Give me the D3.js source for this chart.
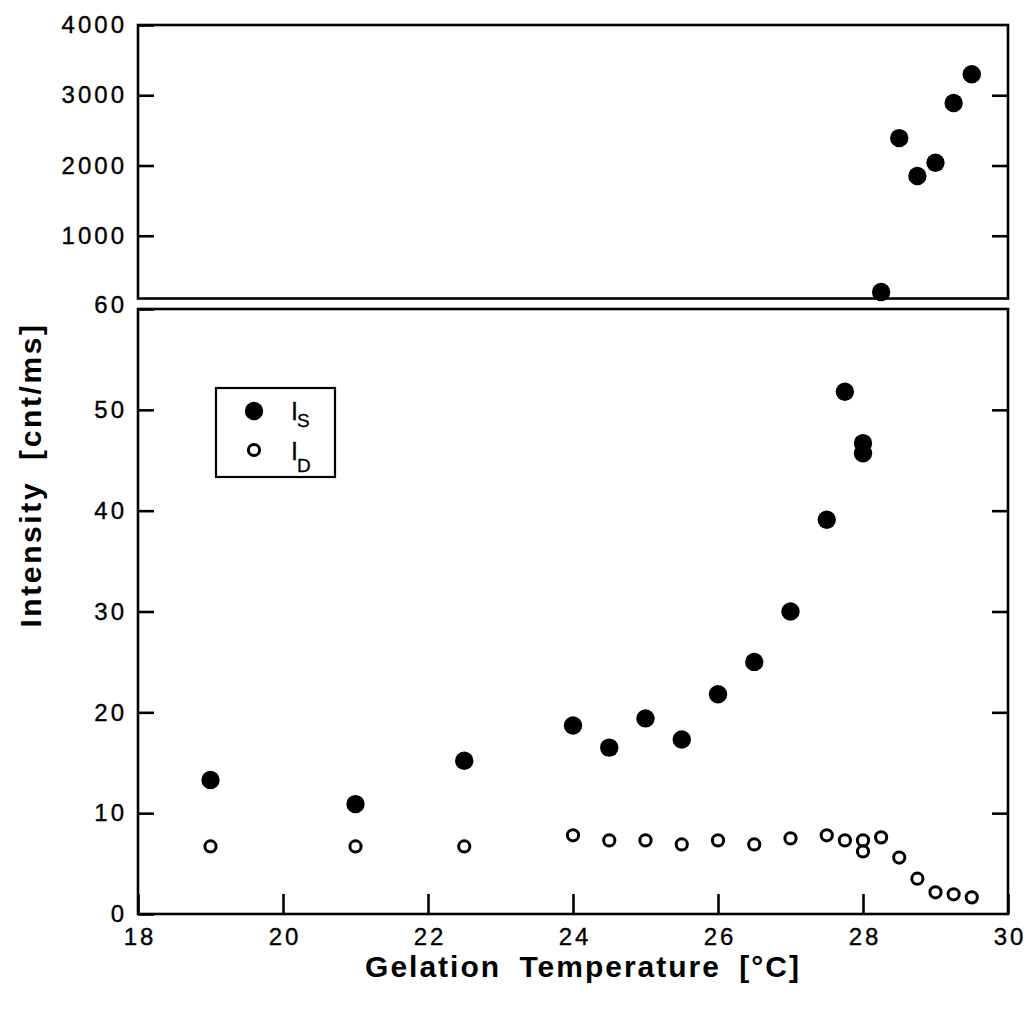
<!DOCTYPE html>
<html>
<head>
<meta charset="utf-8">
<script src="https://cdn.jsdelivr.net/npm/d3@7"></script>
<style>
  html, body { margin: 0; padding: 0; background: #fff; }
  svg { display: block; }
  text { font-family: "Liberation Sans", Arial, Helvetica, sans-serif; fill: #000; }
</style>
</head>
<body>
<svg id="chart" width="1028" height="1012"></svg>
<script>
// Gelation temperature (°C) for each measurement
const tempS = [19, 21, 22.5, 24, 24.5, 25, 25.5, 26, 26.5, 27, 27.5, 27.75, 28, 28];
// Static intensity I_S (cnt/ms), low range
const intensityS = [13.3, 10.9, 15.2, 18.7, 16.5, 19.4, 17.3, 21.8, 25.0, 30.0, 39.1, 51.8, 46.7, 45.7];

// High-range I_S values shown in the upper panel
const tempSHigh = [28.25, 28.5, 28.75, 29, 29.25, 29.5];
const intensitySHigh = [200, 2390, 1850, 2040, 2890, 3300];

// Dynamic intensity I_D (cnt/ms)
const tempD = [19, 21, 22.5, 24, 24.5, 25, 25.5, 26, 26.5, 27, 27.5, 27.75, 28, 28, 28.25, 28.5, 28.75, 29, 29.25, 29.5];
const intensityD = [6.7, 6.7, 6.7, 7.8, 7.3, 7.3, 6.9, 7.3, 6.9, 7.5, 7.8, 7.3, 7.3, 6.2, 7.6, 5.6, 3.5, 2.15, 1.95, 1.65];

// Tick labels
const xTicks = [18, 20, 22, 24, 26, 28, 30];
const yTicksLow = [0, 10, 20, 30, 40, 50, 60];
const yTicksHigh = [1000, 2000, 3000, 4000];

const svg = d3.select("#chart");

const left = 138, right = 1008;
const topY0 = 25, topY1 = 298.5;      // upper panel frame
const lowY0 = 309, lowY1 = 914;       // lower panel frame

const x = d3.scaleLinear().domain([18, 30]).range([left, right]);
const yLow = d3.scaleLinear().domain([0, 60]).range([lowY1, lowY0]);
const yHigh = d3.scaleLinear().domain([0, 4000]).range([306, topY0]);

const frameW = 2.6;
const tickFont = 24;
const tickSpacing = 3;

// Panel frames
svg.append("rect").attr("x", left).attr("y", topY0)
  .attr("width", right - left).attr("height", topY1 - topY0)
  .attr("fill", "none").attr("stroke", "#000").attr("stroke-width", frameW);
svg.append("rect").attr("x", left).attr("y", lowY0)
  .attr("width", right - left).attr("height", lowY1 - lowY0)
  .attr("fill", "none").attr("stroke", "#000").attr("stroke-width", frameW);

function styleAxis(g) {
  g.select(".domain").remove();
  g.selectAll(".tick line").attr("stroke", "#000").attr("stroke-width", frameW);
  g.selectAll(".tick text")
    .attr("font-size", tickFont)
    .attr("letter-spacing", tickSpacing)
    .attr("fill", "#000")
    .attr("stroke", "#000").attr("stroke-width", 0.35);
}

// Upper panel axes
svg.append("g").attr("transform", `translate(${left},0)`)
  .call(d3.axisLeft(yHigh).tickValues(yTicksHigh).tickSize(-16).tickPadding(11).tickFormat(d3.format("d")))
  .call(styleAxis);
svg.append("g").attr("transform", `translate(${right},0)`)
  .call(d3.axisRight(yHigh).tickValues(yTicksHigh.slice(0, 3)).tickSize(-16).tickFormat(""))
  .call(styleAxis);

// Lower panel axes
svg.append("g").attr("transform", `translate(${left},0)`)
  .call(d3.axisLeft(yLow).tickValues(yTicksLow).tickSize(-16).tickPadding(11).tickFormat(d3.format("d")))
  .call(styleAxis)
  .call(g => g.selectAll(".tick").filter(d => d === 60).select("text").attr("y", -4));
svg.append("g").attr("transform", `translate(${right},0)`)
  .call(d3.axisRight(yLow).tickValues(yTicksLow.slice(1, 6)).tickSize(-16).tickFormat(""))
  .call(styleAxis);
svg.append("g").attr("transform", `translate(0,${lowY1})`)
  .call(d3.axisBottom(x).tickValues(xTicks).tickSize(-20).tickPadding(14).tickFormat(d3.format("d")))
  .call(styleAxis)
  .call(g => g.selectAll(".tick text").attr("dx", tickSpacing / 2));

// Markers
const rFilled = 9.2, rOpen = 5.6, openW = 3;

svg.append("g").selectAll("circle").data(tempSHigh.map((t, i) => [t, intensitySHigh[i]]))
  .join("circle")
  .attr("cx", d => x(d[0])).attr("cy", d => yHigh(d[1]))
  .attr("r", rFilled).attr("fill", "#000");

svg.append("g").selectAll("circle").data(tempS.map((t, i) => [t, intensityS[i]]))
  .join("circle")
  .attr("cx", d => x(d[0])).attr("cy", d => yLow(d[1]))
  .attr("r", rFilled).attr("fill", "#000");

svg.append("g").selectAll("circle").data(tempD.map((t, i) => [t, intensityD[i]]))
  .join("circle")
  .attr("cx", d => x(d[0])).attr("cy", d => yLow(d[1]))
  .attr("r", rOpen).attr("fill", "#fff").attr("stroke", "#000").attr("stroke-width", openW);

// Legend
const lg = svg.append("g");
lg.append("rect").attr("x", 216).attr("y", 388).attr("width", 119).attr("height", 89)
  .attr("fill", "none").attr("stroke", "#000").attr("stroke-width", 2.2);
lg.append("circle").attr("cx", 254).attr("cy", 411).attr("r", rFilled).attr("fill", "#000");
lg.append("circle").attr("cx", 254).attr("cy", 450).attr("r", rOpen)
  .attr("fill", "#fff").attr("stroke", "#000").attr("stroke-width", openW);
const legendItems = [["S", 420, 427], ["D", 460, 472]];
legendItems.forEach(([sub, yb, ys]) => {
  lg.append("text").attr("x", 291).attr("y", yb).attr("font-size", 25)
    .attr("stroke", "#000").attr("stroke-width", 0.3).text("I");
  lg.append("text").attr("x", 297).attr("y", ys).attr("font-size", 19)
    .attr("stroke", "#000").attr("stroke-width", 0.3).text(sub);
});

// Axis titles
svg.append("text")
  .attr("x", 583).attr("y", 977)
  .attr("text-anchor", "middle")
  .attr("font-size", 30).attr("font-weight", "bold")
  .attr("letter-spacing", 2).attr("word-spacing", 8)
  .text("Gelation Temperature [°C]");

svg.append("text")
  .attr("transform", "translate(41,475) rotate(-90)")
  .attr("text-anchor", "middle")
  .attr("font-size", 30).attr("font-weight", "bold")
  .attr("letter-spacing", 2.6).attr("word-spacing", 10)
  .text("Intensity [cnt/ms]");
</script>
</body>
</html>
